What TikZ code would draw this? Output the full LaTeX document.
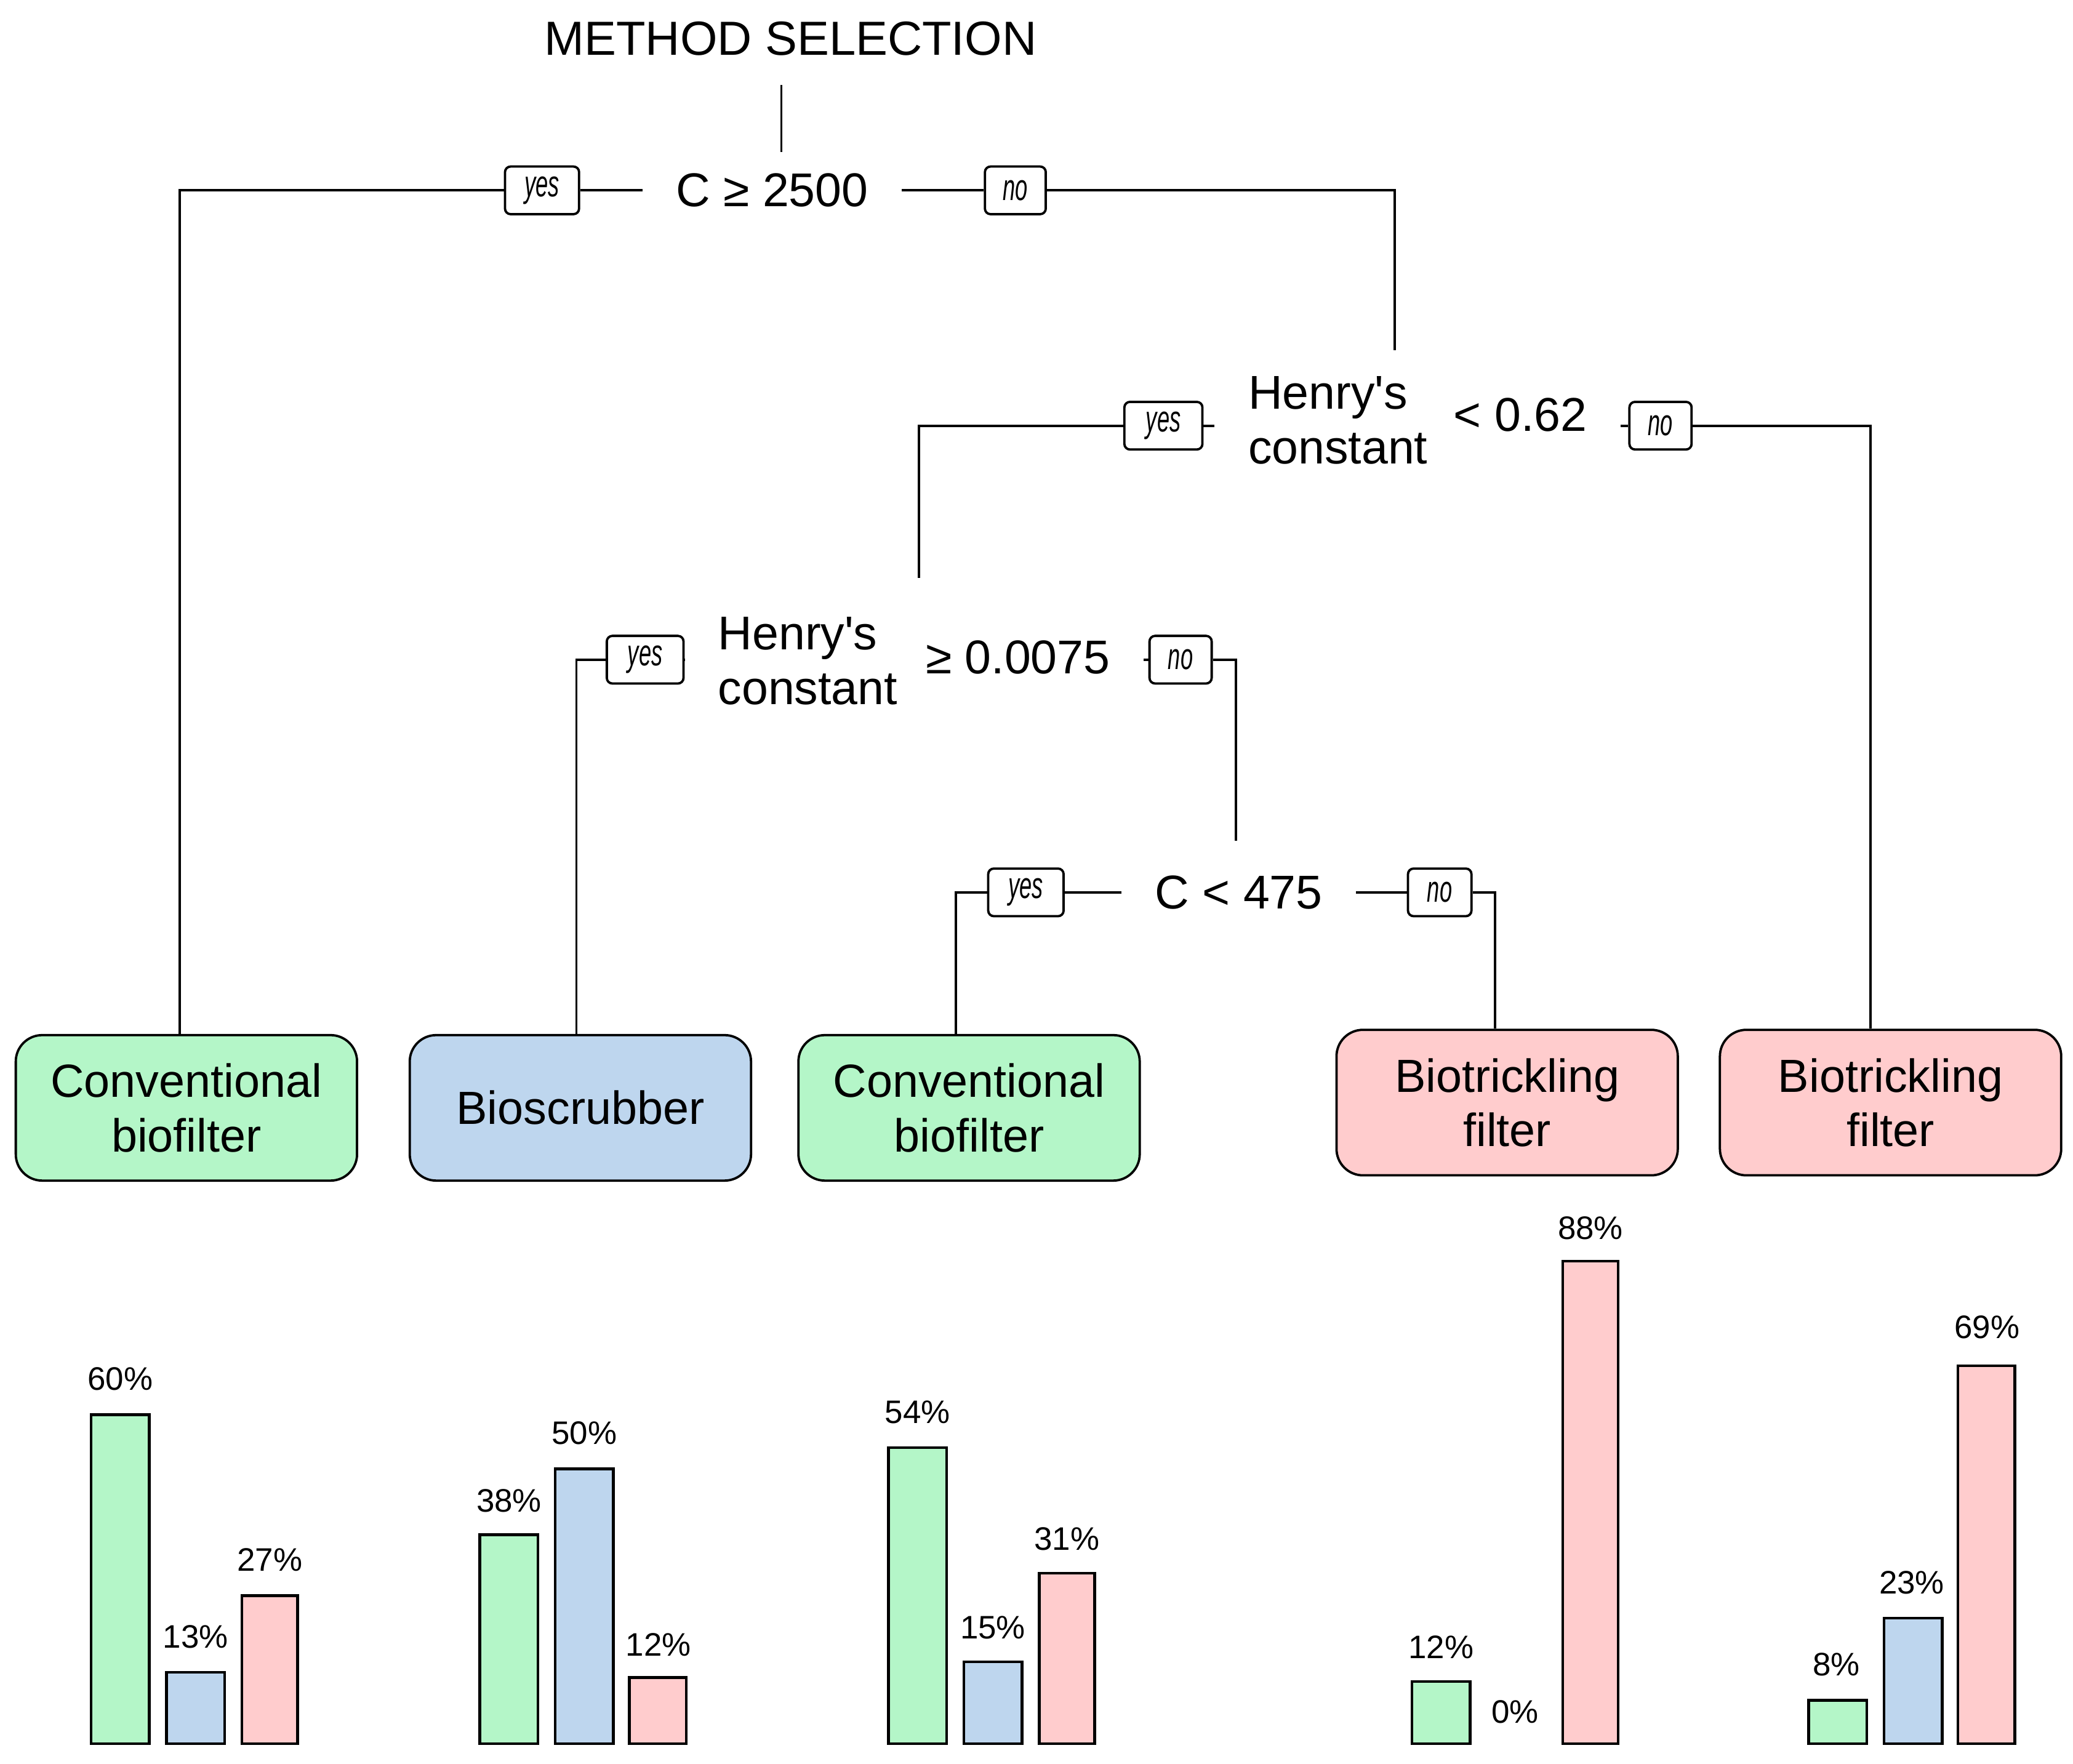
\documentclass[tikz,border=0pt]{standalone}
\usepackage{fontspec}
\setmainfont{Liberation Sans}
\usepackage{graphicx}
\usetikzlibrary{positioning}

\definecolor{leafgreen}{RGB}{180,246,200}
\definecolor{leafblue}{RGB}{190,214,238}
\definecolor{leafpink}{RGB}{255,204,205}

\newcommand{\ynlabel}[1]{\scalebox{0.6}[1]{\itshape #1}}

\begin{document}
\begin{tikzpicture}[x=0.01cm, y=-0.01cm, line width=0.5pt,
    cond/.style={font=\fontsize{10.2}{11.7}\selectfont, inner ysep=0pt, inner xsep=7pt},
    yesno/.style={draw, rounded corners=1.2pt, fill=white, minimum height=0.36cm,
      inner sep=0pt, font=\fontsize{8}{8}\selectfont},
    leaf/.style={draw, rounded corners=0.2cm, minimum width=2.58cm, minimum height=1.1cm,
      align=center, font=\fontsize{10}{11.7}\selectfont},
    bar/.style={draw, line width=0.6pt},
    pct/.style={font=\fontsize{7}{8}\selectfont}]
  \useasboundingbox (0,0) rectangle (1568,1334);

  % tree
  \node[font=\fontsize{10.3}{12}\selectfont] (title) at (598,29) {METHOD SELECTION};
  \coordinate (rootin) at (591,115);
  \draw (title.south -| rootin) ++(0,10) -- (rootin);

  \node[cond] (root) at (584,144) {C ≥ 2500};
  \node[yesno, minimum width=0.56cm] (yesA) at (410,144) {\ynlabel{yes}};
  \node[yesno, minimum width=0.46cm] (noA) at (768,144) {\ynlabel{no}};

  \node[cond, align=left] (h1) at (1012,318) {Henry\textquotesingle s\\constant};
  \node[cond] (h1op) at (1150,314) {< 0.62};
  \node[yesno, minimum width=0.59cm] (yesB) at (880,322) {\ynlabel{yes}};
  \node[yesno, minimum width=0.47cm] (noB) at (1256,322) {\ynlabel{no}};
  \coordinate (h1in) at (1055,265);

  \node[cond, align=left] (h2) at (611,500) {Henry\textquotesingle s\\constant};
  \node[cond] (h2op) at (770,497) {≥ 0.0075};
  \node[yesno, minimum width=0.58cm] (yesC) at (488,499) {\ynlabel{yes}};
  \node[yesno, minimum width=0.47cm] (noC) at (893,499) {\ynlabel{no}};
  \coordinate (h2in) at (695,437);

  \node[cond] (c4) at (937,675) {C < 475};
  \node[yesno, minimum width=0.57cm] (yesD) at (776,675) {\ynlabel{yes}};
  \node[yesno, minimum width=0.48cm] (noD) at (1089,675) {\ynlabel{no}};
  \coordinate (c4in) at (935,636);

  \node[leaf, fill=leafgreen] (leafA) at (141,838) {Conventional\\biofilter};
  \node[leaf, fill=leafblue] (leafB) at (439,838) {Bioscrubber};
  \node[leaf, fill=leafgreen] (leafC) at (733,838) {Conventional\\biofilter};
  \node[leaf, fill=leafpink] (leafD) at (1140,834) {Biotrickling\\filter};
  \node[leaf, fill=leafpink] (leafE) at (1430,834) {Biotrickling\\filter};

  \draw (yesA) -- (root);
  \draw (yesA) -| ([xshift=-0.05cm]leafA.north);
  \draw (root) -- (noA);
  \draw (noA) -| (h1in);

  \draw (yesB.east) -- (yesB.east -| h1.west);
  \draw (yesB) -| (h2in);
  \draw (h1op.east |- noB) -- (noB);
  \draw (noB) -| ([xshift=-0.15cm]leafE.north);

  \draw (yesC.east) -- (yesC.east -| h2.west);
  \draw (yesC) -| ([xshift=-0.03cm]leafB.north);
  \draw (h2op.east |- noC) -- (noC);
  \draw (noC) -| (c4in);

  \draw (yesD) -- (c4);
  \draw (yesD) -| ([xshift=-0.1cm]leafC.north);
  \draw (c4) -- (noD);
  \draw (noD) -| ([xshift=-0.09cm]leafD.north);

  % class shares under each leaf
  \draw[bar, fill=leafgreen] (69,1319) rectangle (113,1070);  \node[pct] (pA1) at (91,1043) {60\%};
  \draw[bar, fill=leafblue] (126,1319) rectangle (170,1265);  \node[pct] (pA2) at (148,1238) {13\%};
  \draw[bar, fill=leafpink] (183,1319) rectangle (225,1207);  \node[pct] (pA3) at (204,1180) {27\%};

  \draw[bar, fill=leafgreen] (363,1319) rectangle (407,1161); \node[pct] (pB1) at (385,1135) {38\%};
  \draw[bar, fill=leafblue] (420,1319) rectangle (464,1111);  \node[pct] (pB2) at (442,1084) {50\%};
  \draw[bar, fill=leafpink] (476,1319) rectangle (519,1269);  \node[pct] (pB3) at (498,1244) {12\%};

  \draw[bar, fill=leafgreen] (672,1319) rectangle (716,1095); \node[pct] (pC1) at (694,1068) {54\%};
  \draw[bar, fill=leafblue] (729,1319) rectangle (773,1257);  \node[pct] (pC2) at (751,1231) {15\%};
  \draw[bar, fill=leafpink] (786,1319) rectangle (828,1190);  \node[pct] (pC3) at (807,1164) {31\%};

  \draw[bar, fill=leafgreen] (1068,1319) rectangle (1112,1272); \node[pct] (pD1) at (1090,1246) {12\%};
  \node[pct] (pD2) at (1146,1295) {0\%};
  \draw[bar, fill=leafpink] (1182,1319) rectangle (1224,954);  \node[pct] (pD3) at (1203,929) {88\%};

  \draw[bar, fill=leafgreen] (1368,1319) rectangle (1412,1286); \node[pct] (pE1) at (1389,1259) {8\%};
  \draw[bar, fill=leafblue] (1425,1319) rectangle (1469,1224);  \node[pct] (pE2) at (1446,1197) {23\%};
  \draw[bar, fill=leafpink] (1481,1319) rectangle (1524,1033);  \node[pct] (pE3) at (1503,1004) {69\%};
\end{tikzpicture}
\end{document}
